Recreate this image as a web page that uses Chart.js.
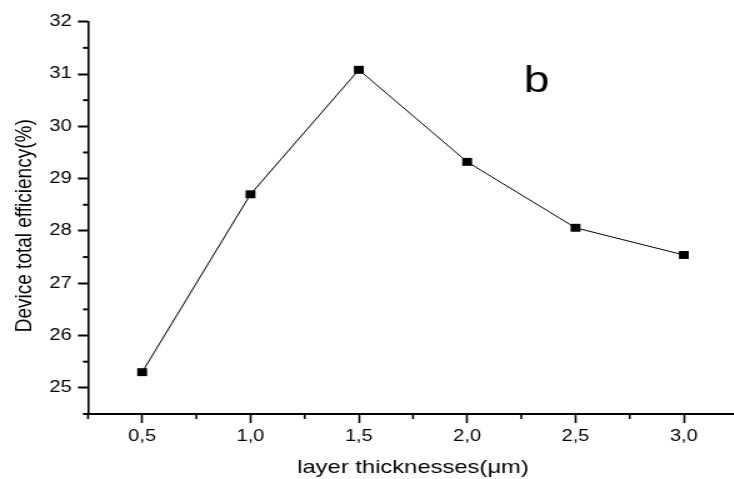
<!DOCTYPE html>
<html>
<head>
<meta charset="utf-8">
<script src="https://cdn.jsdelivr.net/npm/chart.js@4.4.1/dist/chart.umd.min.js"></script>
<style>
  html, body { margin: 0; padding: 0; background: #fff; overflow: hidden; }
  /* the source figure is stretched sideways, so the canvas is too */
  #wrap { width: 596px; height: 479px; transform: scaleX(1.25); transform-origin: 0 0; }
</style>
</head>
<body>
<div id="wrap"><canvas id="effChart" width="596" height="479"></canvas></div>
<script>
// data
const thickness = [0.5, 1.0, 1.5, 2.0, 2.5, 3.0];
const efficiency = [25.3, 28.7, 31.08, 29.32, 28.06, 27.54];

// axis ticks (majors get a label, the rest are minor marks)
const xTicks = [0.25, 0.5, 0.75, 1.0, 1.25, 1.5, 1.75, 2.0, 2.25, 2.5, 2.75, 3.0, 3.25];
const yTicks = [24.5, 25, 25.5, 26, 26.5, 27, 27.5, 28, 28.5, 29, 29.5, 30, 30.5, 31, 31.5, 32];

const xTitle = 'layer thicknesses(\u03bcm)';
const yTitle = 'Device total efficiency(%)   ';
const panelLabel = 'b';

const FONT = '"Liberation Sans", Arial, sans-serif';

const isMajorX = v => Math.abs(v * 2 - Math.round(v * 2)) < 1e-6;
const isMajorY = v => Number.isInteger(v);

// short minor ticks + the "b" panel letter
const extras = {
    id: 'extras',
    afterDraw(chart) {
        const ctx = chart.ctx;
        const xs = chart.scales.x, ys = chart.scales.y;
        ctx.save();
        ctx.strokeStyle = '#000';
        ctx.lineWidth = 1.6;
        xTicks.filter(v => !isMajorX(v)).forEach(v => {
            const px = xs.getPixelForValue(v);
            ctx.beginPath(); ctx.moveTo(px, xs.top); ctx.lineTo(px, xs.top + 5); ctx.stroke();
        });
        ctx.lineWidth = 2;
        yTicks.filter(v => !isMajorY(v)).forEach(v => {
            const py = ys.getPixelForValue(v);
            ctx.beginPath(); ctx.moveTo(ys.right, py); ctx.lineTo(ys.right - 4, py); ctx.stroke();
        });
        ctx.fillStyle = '#000';
        ctx.font = '37px ' + FONT;
        ctx.textAlign = 'center';
        ctx.textBaseline = 'alphabetic';
        ctx.fillText(panelLabel, xs.getPixelForValue(2.32), ys.getPixelForValue(30.66));
        ctx.restore();
    }
};

new Chart(document.getElementById('effChart').getContext('2d'), {
    type: 'line',
    data: {
        datasets: [{
            data: thickness.map((x, i) => ({ x: x, y: efficiency[i] })),
            borderColor: '#000',
            borderWidth: 1,
            tension: 0,
            pointStyle: 'rect',
            pointRadius: 5.6,
            pointBorderWidth: 0,
            pointBackgroundColor: '#000',
            clip: false
        }]
    },
    options: {
        responsive: false,
        animation: false,
        devicePixelRatio: 1,
        layout: { padding: { top: 21.7, right: 3, bottom: 0, left: 0 } },
        plugins: { legend: { display: false }, tooltip: { enabled: false } },
        scales: {
            x: {
                type: 'linear',
                min: 0.25,
                max: 3.25,
                afterBuildTicks: axis => { axis.ticks = xTicks.map(v => ({ value: v })); },
                afterFit: axis => { axis.height = 65; },
                border: { display: true, color: '#000', width: 2 },
                grid: {
                    drawOnChartArea: false,
                    tickLength: 9,
                    tickWidth: 1.6,
                    tickColor: c => isMajorX(c.tick.value) ? '#000' : 'rgba(0,0,0,0)'
                },
                ticks: {
                    color: '#000',
                    padding: 4,
                    maxRotation: 0,
                    autoSkip: false,
                    font: { family: FONT, size: 16 },
                    callback: v => isMajorX(v) ? v.toFixed(1).replace('.', ',') : ''
                },
                title: {
                    display: true,
                    text: xTitle,
                    color: '#000',
                    font: { family: FONT, size: 19 },
                    padding: { top: 0, bottom: 0 }
                }
            },
            y: {
                type: 'linear',
                min: 24.5,
                max: 32,
                afterBuildTicks: axis => { axis.ticks = yTicks.map(v => ({ value: v })); },
                afterFit: axis => { axis.width = 70.4; },
                border: { display: true, color: '#000', width: 1.6 },
                grid: {
                    drawOnChartArea: false,
                    tickLength: 8,
                    tickWidth: 2,
                    tickColor: c => isMajorY(c.tick.value) ? '#000' : 'rgba(0,0,0,0)'
                },
                ticks: {
                    color: '#000',
                    padding: 5,
                    autoSkip: false,
                    font: { family: FONT, size: 16 },
                    callback: v => isMajorY(v) ? String(v) : ''
                },
                title: {
                    display: true,
                    text: yTitle,
                    color: '#000',
                    font: { family: FONT, size: 19 },
                    padding: { top: 8, bottom: 0 }
                }
            }
        }
    },
    plugins: [extras]
});
</script>
</body>
</html>
